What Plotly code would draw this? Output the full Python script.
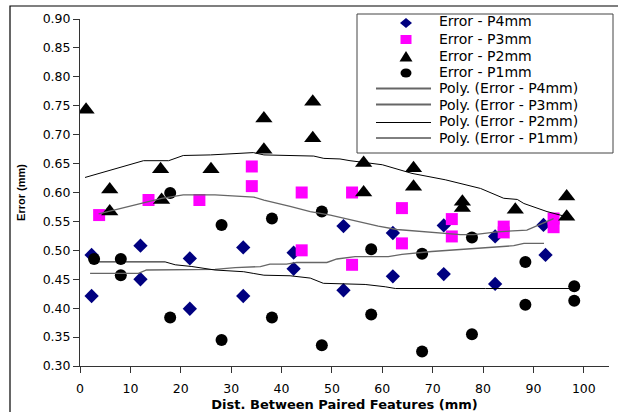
import plotly.graph_objects as go

# ---- data ----
p4_x = [2.3, 2.3, 12.0, 12.0, 21.8, 21.8, 32.4, 32.4, 42.4, 42.4, 52.3, 52.3, 62.1, 62.1, 72.2, 72.2, 82.4, 82.4, 92.0, 92.4]
p4_y = [0.492, 0.421, 0.508, 0.450, 0.486, 0.399, 0.505, 0.421, 0.496, 0.468, 0.542, 0.431, 0.530, 0.455, 0.543, 0.459, 0.524, 0.442, 0.544, 0.492]

p3_x = [3.8, 13.6, 23.7, 34.1, 34.1, 44.0, 44.0, 54.0, 54.0, 63.9, 63.9, 73.8, 73.8, 84.1, 84.1, 94.0, 94.0]
p3_y = [0.561, 0.587, 0.587, 0.645, 0.611, 0.600, 0.500, 0.600, 0.475, 0.573, 0.512, 0.554, 0.524, 0.541, 0.531, 0.555, 0.540]

p2_x = [1.2, 5.9, 5.9, 16.0, 16.2, 26.0, 36.5, 36.5, 46.2, 46.2, 56.3, 56.3, 66.2, 66.2, 75.9, 75.9, 86.4, 96.6, 96.6]
p2_y = [0.743, 0.605, 0.567, 0.640, 0.587, 0.640, 0.728, 0.674, 0.757, 0.694, 0.651, 0.600, 0.642, 0.610, 0.584, 0.573, 0.570, 0.593, 0.558]

p1_x = [2.8, 8.1, 8.1, 17.9, 17.9, 28.1, 28.1, 38.1, 38.1, 48.0, 48.0, 57.8, 57.8, 67.9, 67.9, 77.8, 77.8, 88.4, 88.4, 98.1, 98.1]
p1_y = [0.485, 0.485, 0.457, 0.599, 0.384, 0.544, 0.345, 0.555, 0.384, 0.567, 0.336, 0.502, 0.389, 0.494, 0.325, 0.522, 0.355, 0.480, 0.406, 0.438, 0.413]

# polynomial trendlines as drawn in the reference
t4_x = [2.0, 11.6, 13.2, 26.8, 30.8, 35.8, 37.7, 41.0, 43.0, 49.0, 51.0, 54.6, 61.2, 63.9, 69.8, 74.5, 77.8, 81.4, 86.1, 88.1, 92.1]
t4_y = [0.460, 0.460, 0.466, 0.467, 0.470, 0.472, 0.476, 0.476, 0.479, 0.479, 0.485, 0.489, 0.489, 0.493, 0.498, 0.501, 0.504, 0.506, 0.508, 0.512, 0.512]

t3_x = [3.7, 16.2, 20.5, 26.8, 34.5, 36.5, 41.7, 45.7, 49.7, 53.6, 59.2, 62.9, 70.2, 75.5, 78.2, 82.8, 88.7, 94.0]
t3_y = [0.563, 0.590, 0.596, 0.596, 0.592, 0.587, 0.576, 0.567, 0.561, 0.553, 0.542, 0.536, 0.531, 0.527, 0.527, 0.532, 0.535, 0.555]

t2_x = [1.0, 12.6, 17.6, 20.5, 25.9, 32.5, 34.4, 36.5, 46.4, 48.4, 51.6, 53.6, 60.0, 65.9, 72.5, 79.5, 84.1, 86.8, 88.1, 92.7, 96.6]
t2_y = [0.626, 0.655, 0.655, 0.664, 0.665, 0.669, 0.669, 0.665, 0.663, 0.659, 0.658, 0.655, 0.648, 0.633, 0.622, 0.607, 0.590, 0.588, 0.581, 0.567, 0.558]

t1_x = [2.6, 16.9, 18.9, 22.2, 26.8, 32.5, 34.5, 36.5, 41.7, 45.7, 48.3, 53.6, 56.6, 60.6, 62.6, 80.5, 97.5]
t1_y = [0.480, 0.480, 0.475, 0.472, 0.466, 0.463, 0.460, 0.457, 0.456, 0.452, 0.443, 0.441, 0.441, 0.437, 0.434, 0.434, 0.434]

x_ticks = [0, 10, 20, 30, 40, 50, 60, 70, 80, 90, 100]
y_ticks = [0.30, 0.35, 0.40, 0.45, 0.50, 0.55, 0.60, 0.65, 0.70, 0.75, 0.80, 0.85, 0.90]

marker_names = ["Error - P4mm", "Error - P3mm", "Error - P2mm", "Error - P1mm"]
line_names = ["Poly. (Error - P4mm)", "Poly. (Error - P3mm)",
              "Poly. (Error - P2mm)", "Poly. (Error - P1mm)"]

FONT = "DejaVu Sans"
NAVY, MAGENTA, GREY = "#000080", "#FF00FF", "#666666"

fig = go.Figure()
fig.add_trace(go.Scatter(x=p4_x, y=p4_y, mode="markers", name=marker_names[0],
                         marker=dict(symbol="diamond", size=11, color=NAVY)))
fig.add_trace(go.Scatter(x=p3_x, y=p3_y, mode="markers", name=marker_names[1],
                         marker=dict(symbol="square", size=12, color=MAGENTA)))
fig.add_trace(go.Scatter(x=p2_x, y=p2_y, mode="markers", name=marker_names[2],
                         marker=dict(symbol="triangle-up", size=15, color="black")))
fig.add_trace(go.Scatter(x=p1_x, y=p1_y, mode="markers", name=marker_names[3],
                         marker=dict(symbol="circle", size=12, color="black")))

fig.add_trace(go.Scatter(x=t4_x, y=t4_y, mode="lines", name=line_names[0],
                         line=dict(color=GREY, width=1.3)))
fig.add_trace(go.Scatter(x=t3_x, y=t3_y, mode="lines", name=line_names[1],
                         line=dict(color=GREY, width=1.3)))
fig.add_trace(go.Scatter(x=t2_x, y=t2_y, mode="lines", name=line_names[2],
                         line=dict(color="black", width=1)))
fig.add_trace(go.Scatter(x=t1_x, y=t1_y, mode="lines", name=line_names[3],
                         line=dict(color="black", width=1)))

L, R, T, B = 80, 9, 19, 46
W, H = 618, 412
pw, ph = W - L - R, H - T - B

def px(xp):
    return (xp - L) / pw

def py(yp):
    return (H - B - yp) / ph

def path(points):
    return "M " + " L ".join(f"{px(a)},{py(b)}" for a, b in points) + " Z"

# ---- compact boxed legend (drawn in paper space, like the reference) ----
shapes = [
    dict(type="path", xref="paper", yref="paper",
         path=f"M {px(10)},{py(412)} L {px(10)},{py(6)} L {px(618)},{py(6)}",
         line=dict(color="black", width=1.2)),
    dict(type="rect", xref="paper", yref="paper", layer="above",
         x0=px(357), x1=px(613), y0=py(153), y1=py(14),
         fillcolor="white", line=dict(color="#444444", width=1)),
]
mx = 406
row_y = [21, 39, 56, 72, 88, 104.5, 121.5, 137.5]
sym_y = [23, 39.5, 56.5, 73]
# diamond
shapes.append(dict(type="path", xref="paper", yref="paper", layer="above",
                   path=path([(mx - 6, sym_y[0]), (mx, sym_y[0] - 5), (mx + 6, sym_y[0]), (mx, sym_y[0] + 5)]),
                   fillcolor=NAVY, line=dict(width=0)))
# square
shapes.append(dict(type="rect", xref="paper", yref="paper", layer="above",
                   x0=px(mx - 5.5), x1=px(mx + 5.5), y0=py(sym_y[1] + 4.5), y1=py(sym_y[1] - 4.5),
                   fillcolor=MAGENTA, line=dict(width=0)))
# triangle
shapes.append(dict(type="path", xref="paper", yref="paper", layer="above",
                   path=path([(mx - 6.5, sym_y[2] + 5), (mx + 6.5, sym_y[2] + 5), (mx, sym_y[2] - 5.5)]),
                   fillcolor="black", line=dict(width=0)))
# circle
shapes.append(dict(type="circle", xref="paper", yref="paper", layer="above",
                   x0=px(mx - 5.5), x1=px(mx + 5.5), y0=py(sym_y[3] + 4.5), y1=py(sym_y[3] - 4.5),
                   fillcolor="black", line=dict(width=0)))
line_y = [88.5, 104.5, 122.5, 138]
line_styles = [(GREY, 1.8), (GREY, 1.8), ("black", 1), ("black", 1)]
for ly, (c, w) in zip(line_y, line_styles):
    shapes.append(dict(type="line", xref="paper", yref="paper", layer="above",
                       x0=px(376), x1=px(431), y0=py(ly), y1=py(ly),
                       line=dict(color=c, width=w)))

annotations = []
for name, ry in zip(marker_names + line_names, row_y):
    annotations.append(dict(text=name, xref="paper", yref="paper", x=px(437), y=py(ry),
                            xanchor="left", yanchor="middle", showarrow=False,
                            font=dict(family=FONT, size=14, color="black")))

fig.update_layout(
    width=W, height=H,
    margin=dict(l=L, r=R, t=T, b=B, autoexpand=False),
    paper_bgcolor="white", plot_bgcolor="white",
    font=dict(family=FONT, color="black", size=12),
    showlegend=False,
    xaxis=dict(
        range=[0, 105], tickvals=x_ticks, ticks="outside", ticklen=6, tickwidth=1,
        tickcolor="#333", showline=True, linecolor="#333", linewidth=1,
        showgrid=False, zeroline=False, tickfont=dict(family=FONT, size=12.5),
        ticklabelstandoff=5, automargin=False,
        title=dict(text="<b>Dist. Between Paired Features (mm)</b>", standoff=8,
                   font=dict(family=FONT, size=13)),
    ),
    yaxis=dict(
        range=[0.30, 0.90], tickvals=y_ticks, tickformat=".2f", ticks="outside",
        ticklen=6, tickwidth=1, tickcolor="#333", showline=True, linecolor="#333",
        linewidth=1, showgrid=False, zeroline=False, tickfont=dict(family=FONT, size=12.5),
        automargin=False,
        title=dict(text="<b>Error (mm)</b>", standoff=14,
                   font=dict(family="Liberation Sans", size=11)),
    ),
    shapes=shapes,
    annotations=annotations,
)

fig.write_html("out.html")
